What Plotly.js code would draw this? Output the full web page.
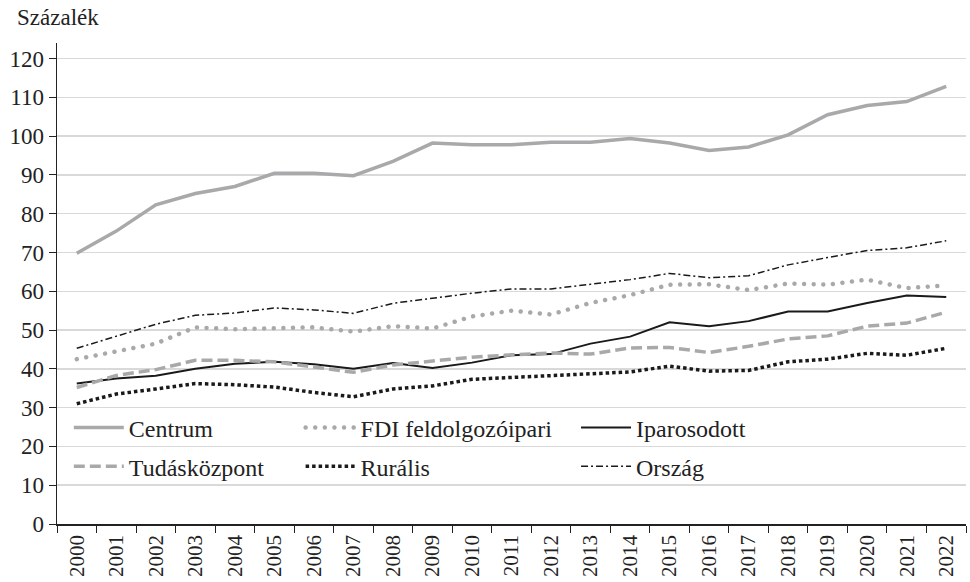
<!DOCTYPE html>
<html>
<head>
<meta charset="utf-8">
<script src="https://cdn.plot.ly/plotly-3.0.1.min.js"></script>
<style>
html,body{margin:0;padding:0;background:#fff;}
#chart{width:970px;height:582px;}
path.js-line[style*="0.01px"]{stroke-linecap:round;}
</style>
</head>
<body>
<div id="chart"></div>
<script>
const years = ["2000","2001","2002","2003","2004","2005","2006","2007","2008","2009","2010","2011","2012","2013","2014","2015","2016","2017","2018","2019","2020","2021","2022"];
const centrum = [69.8,75.5,82.3,85.2,87.0,90.4,90.4,89.8,93.5,98.2,97.8,97.8,98.4,98.4,99.4,98.2,96.3,97.2,100.3,105.5,107.9,108.9,112.8];
const fdi = [42.5,44.5,46.5,50.7,50.2,50.5,50.7,49.6,51.0,50.4,53.5,55.0,54.0,57.0,59.0,61.7,61.8,60.3,62.0,61.7,63.0,60.8,61.5];
const iparosodott = [36.2,37.5,38.2,40.0,41.3,41.8,41.2,40.0,41.5,40.2,41.6,43.5,43.8,46.5,48.3,52.0,51.0,52.3,54.8,54.8,57.0,58.9,58.5];
const tudaskozpont = [35.2,38.3,39.8,42.2,42.2,41.8,40.5,39.1,41.0,42.1,43.0,43.6,44.1,43.8,45.4,45.5,44.2,45.8,47.7,48.5,51.0,51.8,54.6];
const luralis = [31.0,33.5,34.8,36.2,35.9,35.3,33.9,32.8,34.8,35.6,37.3,37.8,38.2,38.8,39.2,40.7,39.4,39.6,41.8,42.5,44.0,43.5,45.3];
const orszag = [45.3,48.5,51.5,53.8,54.4,55.7,55.2,54.3,56.9,58.2,59.5,60.6,60.6,61.8,63.0,64.6,63.5,64.0,66.8,68.7,70.5,71.2,73.0];
const seriesNames = ["Centrum","FDI feldolgozóipari","Iparosodott","Tudásközpont","Rurális","Ország"];
const markerYear = "2016";
const yTicks = [0,10,20,30,40,50,60,70,80,90,100,110,120];

const gray = "#a9a9ab";
const black = "#1a1a1a";
const font = "Liberation Serif, Times New Roman, serif";
const txt = "#222";

const traces = [
  {name: seriesNames[0], y: centrum, line: {color: gray, width: 3.5}, legend: "legend"},
  {name: seriesNames[1], y: fdi, line: {color: gray, width: 4.5, dash: "0.01px,9.6px"}, legend: "legend2"},
  {name: seriesNames[2], y: iparosodott, line: {color: black, width: 2}, legend: "legend3"},
  {name: seriesNames[3], y: tudaskozpont, line: {color: gray, width: 3.5, dash: "11px,5px"}, legend: "legend4"},
  {name: seriesNames[4], y: luralis, line: {color: black, width: 3.5, dash: "3.5px,3px"}, legend: "legend5"},
  {name: seriesNames[5], y: orszag, line: {color: black, width: 1.5, dash: "7px,3px,2px,3px"}, legend: "legend6"}
].map(t => Object.assign({x: years, type: "scatter", mode: "lines"}, t));

function leg(x, y) {
  return {x: x, y: y, xanchor: "left", yanchor: "middle", bgcolor: "rgba(0,0,0,0)",
          font: {family: font, size: 24, color: txt}, itemwidth: 50};
}
const r1 = 0.2, r2 = 0.119;

const layout = {
  width: 970, height: 582,
  margin: {l: 57, r: 4, t: 43, b: 58},
  paper_bgcolor: "#fff", plot_bgcolor: "#fff",
  font: {family: font, size: 24, color: txt},
  showlegend: true,
  legend: leg(0.013, r1), legend2: leg(0.268, r1), legend3: leg(0.571, r1),
  legend4: leg(0.013, r2), legend5: leg(0.268, r2), legend6: leg(0.571, r2),
  xaxis: {
    type: "category", tickson: "boundaries", ticks: "outside", ticklen: 7, tickcolor: txt,
    tickangle: -90, showline: true, linecolor: txt, linewidth: 1.5, showgrid: false,
    ticklabelstandoff: 1,
    tickfont: {family: font, size: 21, color: txt}, range: [-0.5, 22.5], fixedrange: true
  },
  yaxis: {
    range: [0, 124], tickvals: yTicks, ticks: "outside", ticklen: 7, tickcolor: txt,
    showline: true, linecolor: txt, linewidth: 1.5, showgrid: true, gridcolor: "#d9d9d9", gridwidth: 1.5,
    zeroline: false, tickfont: {family: font, size: 23, color: txt}, fixedrange: true
  },
  shapes: [{type: "line", xref: "x", yref: "y", x0: markerYear, x1: markerYear, y0: 0, y1: 120,
            line: {color: gray, width: 3, dash: "6px,4px"}, layer: "above"}],
  annotations: [{text: "Százalék", xref: "paper", yref: "paper", x: -0.046, y: 1.052,
                 xanchor: "left", yanchor: "middle", showarrow: false,
                 font: {family: font, size: 23, color: txt}}]
};

Plotly.newPlot("chart", traces, layout, {displayModeBar: false, staticPlot: true});
</script>
</body>
</html>
